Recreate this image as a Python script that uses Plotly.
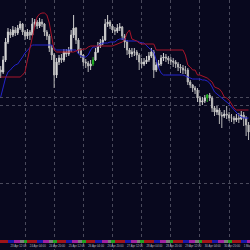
import plotly.graph_objects as go

# ---- price data (2-hour candles) ----
first_open = 1.1930
close = [1.1928, 1.1940, 1.1958, 1.1968, 1.1965, 1.1970, 1.1967, 1.1972, 1.1976, 1.1968,
         1.1964, 1.1968, 1.1965, 1.1976, 1.1978, 1.1974, 1.1978, 1.1976, 1.1968, 1.1964,
         1.1952, 1.1945, 1.1925, 1.1938, 1.1942, 1.1940, 1.1948, 1.1946, 1.1950, 1.1965,
         1.1972, 1.1960, 1.1950, 1.1945, 1.1938, 1.1937, 1.1934, 1.1936, 1.1940, 1.1948,
         1.1954, 1.1957, 1.1960, 1.1976, 1.1978, 1.1974, 1.1970, 1.1969, 1.1972, 1.1973,
         1.1964, 1.1958, 1.1950, 1.1946, 1.1948, 1.1948, 1.1945, 1.1938, 1.1936, 1.1938,
         1.1940, 1.1944, 1.1948, 1.1930, 1.1935, 1.1936, 1.1942, 1.1943, 1.1942, 1.1940,
         1.1939, 1.1938, 1.1936, 1.1933, 1.1932, 1.1930, 1.1930, 1.1918, 1.1915, 1.1912,
         1.1910, 1.1902, 1.1898, 1.1899, 1.1902, 1.1905, 1.1902, 1.1892, 1.1888, 1.1890,
         1.1885, 1.1884, 1.1886, 1.1885, 1.1882, 1.1882, 1.1880, 1.1882, 1.1881, 1.1885,
         1.1882, 1.1875, 1.1868]
high = [1.1934, 1.1944, 1.1962, 1.1972, 1.1971, 1.1974, 1.1973, 1.1975, 1.1979, 1.1977,
        1.1970, 1.1971, 1.1970, 1.1982, 1.1981, 1.1980, 1.1982, 1.1981, 1.1977, 1.1970,
        1.1966, 1.1955, 1.1947, 1.1942, 1.1945, 1.1946, 1.1951, 1.1951, 1.1953, 1.1970,
        1.1985, 1.1973, 1.1962, 1.1952, 1.1946, 1.1941, 1.1939, 1.1940, 1.1943, 1.1952,
        1.1958, 1.1961, 1.1964, 1.1981, 1.1985, 1.1980, 1.1976, 1.1973, 1.1976, 1.1977,
        1.1974, 1.1966, 1.1960, 1.1952, 1.1952, 1.1952, 1.1950, 1.1947, 1.1942, 1.1942,
        1.1944, 1.1948, 1.1952, 1.1950, 1.1938, 1.1940, 1.1945, 1.1947, 1.1946, 1.1944,
        1.1943, 1.1942, 1.1940, 1.1938, 1.1936, 1.1935, 1.1934, 1.1932, 1.1920, 1.1916,
        1.1914, 1.1912, 1.1904, 1.1903, 1.1905, 1.1906, 1.1907, 1.1904, 1.1894, 1.1894,
        1.1892, 1.1888, 1.1890, 1.1894, 1.1888, 1.1886, 1.1884, 1.1886, 1.1887, 1.1889,
        1.1888, 1.1884, 1.1878]
low = [1.1922, 1.1926, 1.1938, 1.1956, 1.1962, 1.1963, 1.1964, 1.1965, 1.1970, 1.1965,
       1.1960, 1.1961, 1.1960, 1.1964, 1.1973, 1.1971, 1.1972, 1.1973, 1.1964, 1.1960,
       1.1948, 1.1940, 1.1912, 1.1922, 1.1935, 1.1937, 1.1938, 1.1943, 1.1944, 1.1948,
       1.1962, 1.1956, 1.1946, 1.1942, 1.1934, 1.1932, 1.1928, 1.1930, 1.1934, 1.1939,
       1.1947, 1.1952, 1.1955, 1.1959, 1.1973, 1.1971, 1.1967, 1.1965, 1.1967, 1.1969,
       1.1960, 1.1952, 1.1945, 1.1942, 1.1943, 1.1944, 1.1940, 1.1930, 1.1932, 1.1934,
       1.1936, 1.1938, 1.1942, 1.1922, 1.1928, 1.1932, 1.1934, 1.1939, 1.1938, 1.1936,
       1.1935, 1.1933, 1.1932, 1.1929, 1.1927, 1.1926, 1.1926, 1.1915, 1.1912, 1.1908,
       1.1906, 1.1898, 1.1894, 1.1895, 1.1897, 1.1898, 1.1899, 1.1888, 1.1884, 1.1885,
       1.1876, 1.1872, 1.1882, 1.1881, 1.1879, 1.1878, 1.1876, 1.1878, 1.1877, 1.1880,
       1.1874, 1.1864, 1.1860]

# ---- indicator bands ----
red_band = [1.1923, 1.1923, 1.1923, 1.1923, 1.1923, 1.1923, 1.1923, 1.1923, 1.1923, 1.1925,
            1.1928, 1.1940, 1.1952, 1.1962, 1.1974, 1.1983, 1.1986, 1.1987, 1.1987, 1.1985,
            1.1977, 1.1963, 1.1950, 1.1948, 1.1948, 1.1948, 1.1948, 1.1948, 1.1948, 1.1948,
            1.1948, 1.1949, 1.1950, 1.1950, 1.1951, 1.1951, 1.1953, 1.1954, 1.1954, 1.1954,
            1.1954, 1.1954, 1.1954, 1.1954, 1.1954, 1.1954, 1.1954, 1.1955, 1.1956, 1.1957,
            1.1958, 1.1960, 1.1967, 1.1970, 1.1961, 1.1960, 1.1959, 1.1957, 1.1956, 1.1956,
            1.1956, 1.1956, 1.1956, 1.1956, 1.1950, 1.1950, 1.1950, 1.1950, 1.1950, 1.1950,
            1.1950, 1.1950, 1.1950, 1.1950, 1.1950, 1.1950, 1.1945, 1.1935, 1.1933, 1.1930,
            1.1930, 1.1925, 1.1925, 1.1924, 1.1923, 1.1922, 1.1920, 1.1918, 1.1913, 1.1912,
            1.1911, 1.1908, 1.1903, 1.1902, 1.1900, 1.1896, 1.1892, 1.1890, 1.1890, 1.1890,
            1.1890, 1.1890, 1.1890]
blue_band = [1.1903, 1.1912, 1.1922, 1.1928, 1.1930, 1.1933, 1.1935, 1.1936, 1.1939, 1.1943,
             1.1947, 1.1950, 1.1953, 1.1955, 1.1955, 1.1955, 1.1955, 1.1955, 1.1955, 1.1955,
             1.1955, 1.1955, 1.1952, 1.1950, 1.1950, 1.1950, 1.1950, 1.1950, 1.1950, 1.1950,
             1.1950, 1.1950, 1.1946, 1.1944, 1.1943, 1.1943, 1.1945, 1.1950, 1.1953, 1.1953,
             1.1954, 1.1956, 1.1957, 1.1957, 1.1957, 1.1958, 1.1958, 1.1958, 1.1960, 1.1961,
             1.1961, 1.1961, 1.1959, 1.1959, 1.1959, 1.1959, 1.1959, 1.1958, 1.1957, 1.1957,
             1.1954, 1.1952, 1.1950, 1.1948, 1.1940, 1.1932, 1.1927, 1.1925, 1.1925, 1.1925,
             1.1925, 1.1925, 1.1925, 1.1925, 1.1925, 1.1925, 1.1924, 1.1923, 1.1922, 1.1921,
             1.1921, 1.1921, 1.1921, 1.1920, 1.1920, 1.1919, 1.1917, 1.1913, 1.1908, 1.1906,
             1.1904, 1.1902, 1.1900, 1.1898, 1.1896, 1.1893, 1.1890, 1.1887, 1.1885, 1.1883,
             1.1882, 1.1882, 1.1882]

green_bars = [38, 85]

# ---- time axis ----
day_starts = [10, 22, 34, 46, 58, 70, 82, 94]
hline_levels = [1.19025, 1.1895, 1.1817]
label_pos = [-4, 4, 12, 20, 28, 36, 44, 52, 60, 68, 76, 84, 92, 100]
label_text = ["22 Apr 20:00", "23 Apr 12:00", "24 Apr 04:00", "24 Apr 20:00",
              "25 Apr 12:00", "26 Apr 04:00", "26 Apr 20:00", "27 Apr 12:00",
              "28 Apr 04:00", "28 Apr 20:00", "29 Apr 12:00", "30 Apr 04:00",
              "30 Apr 20:00", "1 May 12:00"]

# ---- trading sessions strip (hours per session, one day cycle) ----
session_hours = [8, 5, 5, 3, 3]
session_colors = ["#a01418", "#1818a8", "#a020a0", "#7c7c7c", "#20a020"]
session_cycle_start = -1  # candle index where first cycle starts
hours_per_bar = 2

n = len(close)
bar_index = list(range(n))
opens = [first_open] + close[:-1]

main_idx = [i for i in bar_index if i not in green_bars]

fig = go.Figure()

# sessions strip
seg_x, seg_w, seg_c = [], [], []
start = session_cycle_start
while start < n + 1:
    for h, c in zip(session_hours, session_colors):
        w = h / hours_per_bar
        seg_x.append(start + w / 2)
        seg_w.append(w)
        seg_c.append(c)
        start += w
fig.add_trace(go.Bar(x=seg_x, y=[1] * len(seg_x), width=seg_w,
                     marker=dict(color=seg_c, line=dict(width=0)),
                     yaxis="y2", hoverinfo="skip"))

fig.add_trace(go.Scatter(x=bar_index, y=blue_band, mode="lines",
                         line=dict(color="#2424cc", width=1)))
fig.add_trace(go.Scatter(x=bar_index, y=red_band, mode="lines",
                         line=dict(color="#a8142a", width=1)))

fig.add_trace(go.Candlestick(
    x=main_idx,
    open=[opens[i] for i in main_idx], high=[high[i] for i in main_idx],
    low=[low[i] for i in main_idx], close=[close[i] for i in main_idx],
    increasing=dict(line=dict(color="#cfcfcf", width=1), fillcolor="#e6e6e6"),
    decreasing=dict(line=dict(color="#b8b8b8", width=1), fillcolor="#d0d0d0"),
    whiskerwidth=0))
fig.add_trace(go.Candlestick(
    x=green_bars,
    open=[opens[i] for i in green_bars], high=[high[i] for i in green_bars],
    low=[low[i] for i in green_bars], close=[close[i] for i in green_bars],
    increasing=dict(line=dict(color="#22b022", width=1), fillcolor="#22b022"),
    decreasing=dict(line=dict(color="#22b022", width=1), fillcolor="#22b022"),
    whiskerwidth=0))

# time labels under the strip
fig.add_trace(go.Scatter(x=label_pos, y=[0.5] * len(label_pos), yaxis="y3",
                         mode="text", text=label_text, textposition="middle right",
                         textfont=dict(size=2.8, color="#b8b8c0", family="Liberation Sans"),
                         cliponaxis=False, hoverinfo="skip"))

bg = "#08081e"
fig.update_layout(
    width=250, height=250, margin=dict(l=0, r=0, t=0, b=0),
    paper_bgcolor=bg, plot_bgcolor=bg, showlegend=False,
    xaxis=dict(range=[-0.29, 102.6], showticklabels=False, ticks="",
               tickvals=day_starts, showgrid=True, gridcolor="#4a4a5c",
               griddash="dot", gridwidth=1, zeroline=False,
               rangeslider=dict(visible=False), fixedrange=True),
    yaxis=dict(domain=[0.04, 1], range=[1.1760, 1.2000], showticklabels=False,
               ticks="", tickvals=hline_levels, showgrid=True, gridcolor="#4a4a5c",
               griddash="dot", gridwidth=1, zeroline=False),
    yaxis2=dict(domain=[0.027, 0.04], range=[0, 1], visible=False),
    yaxis3=dict(domain=[0.0, 0.027], range=[0, 1], visible=False),
    bargap=0,
)

fig.write_html("out.html")
